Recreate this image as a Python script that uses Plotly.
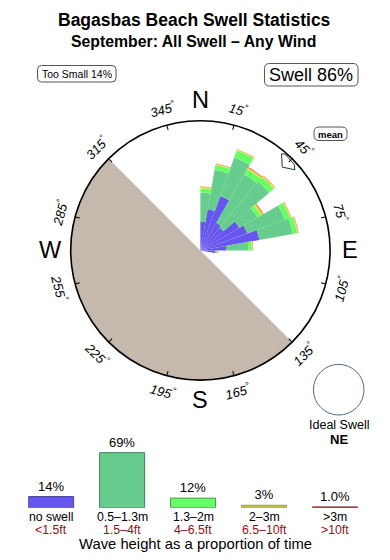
import math
import numpy as np
import plotly.graph_objects as go

W, H = 390, 560
FONT = "Liberation Sans, Arial, Helvetica, sans-serif"

# ---------------- data ----------------
title = "Bagasbas Beach Swell Statistics"
subtitle = "September: All Swell – Any Wind"
too_small_pct = 14
swell_pct = 86
ideal_dir = "NE"
mean_dir = 44.5

# rose: 10-degree sectors (start bearing), cumulative outer radius of each band (rim = 130)
sector_start = [0, 10, 20, 30, 40, 50, 60, 70, 80, 90]
cum_noswell = [29, 42, 58, 32, 30, 45, 50, 60, 26, 15]
cum_small = [58, 82, 99, 88, 90, 66, 90, 94, 48, 16.5]
cum_mid = [62, 87, 106.5, 94, 96, 70, 95.5, 98.5, 51.5, 17]
cum_big = [63.5, 88, 107.5, 95.5, 97.5, 72, 96.5, 99.5, 52.5, 18]
cum_huge = [64, 88.5, 108, 96.5, 98, 73, 97, 100, 53, 18.3]
rim = 130

land_from, land_to = 135, 315

tick_angles = [15, 45, 75, 105, 135, 165, 195, 225, 255, 285, 315, 345]
compass = ["N", "E", "S", "W"]
compass_angles = [0, 90, 180, 270]

band_labels = ["no swell", "0.5–1.3m", "1.3–2m", "2–3m", ">3m"]
band_feet = ["&lt;1.5ft", "1.5–4ft", "4–6.5ft", "6.5–10ft", "&gt;10ft"]
band_pct = [14, 69, 12, 3, 1.0]
band_pct_text = ["14%", "69%", "12%", "3%", "1.0%"]

band_colors = ["#6655ee", "#66cd8e", "#66ff66", "#e2e23a", "#ff6a3d"]
legend_fill = ["#6655ee", "#66cd8e", "#66ff66", "#c8c83a", "#a04040"]
band_line_colors = ["#4a4aa0", "#3f7d57", "#3f9a3f", "#9a9a2a", "#8b2a2a"]

# ---------------- layout geometry (px) ----------------
cx, cy, R = 200.4, 250.4, 129.7


def paper(x, y):
    return x / W, 1 - y / H


fig = go.Figure()

# land sector
fig.add_trace(go.Barpolar(
    theta=[(land_from + land_to) / 2], r=[rim], width=[land_to - land_from],
    marker=dict(color="#c4b9ac", line=dict(width=0)), hoverinfo="skip", showlegend=False))

# rose stacked bands
cums = [cum_noswell, cum_small, cum_mid, cum_big, cum_huge]
prev = np.zeros(len(sector_start))
theta_c = [s + 5 for s in sector_start]
for i, c in enumerate(cums):
    c = np.array(c, dtype=float)
    fig.add_trace(go.Barpolar(
        theta=theta_c, r=c - prev, width=[10] * len(theta_c),
        marker=dict(color=band_colors[i], line=dict(width=0)),
        hoverinfo="skip", showlegend=False))
    prev = c

# mean direction pointer
arrow_dth = [0, -4.5, -3.0, 3.0, 5.0, 0]
arrow_r = [117, 126.5, 128.5, 127.5, 124.5, 117]
fig.add_trace(go.Scatterpolar(
    theta=[mean_dir + d for d in arrow_dth], r=arrow_r, mode="lines",
    fill="toself", fillcolor="white", line=dict(color="#1f3550", width=1),
    cliponaxis=False, hoverinfo="skip", showlegend=False))

px0, py0 = paper(cx - R, cy + R)
px1, py1 = paper(cx + R, cy - R)
fig.update_layout(
    polar=dict(
        domain=dict(x=[px0, px1], y=[py0, py1]),
        bgcolor="white",
        barmode="stack",
        radialaxis=dict(visible=False, range=[0, rim]),
        angularaxis=dict(rotation=90, direction="clockwise", showgrid=False,
                         showline=True, linecolor="black", linewidth=1.6,
                         tickmode="array", tickvals=tick_angles, ticks="inside",
                         ticklen=4, tickwidth=1, tickcolor="black",
                         showticklabels=False),
    )
)

# ---------------- bottom bar legend ----------------
fig.add_trace(go.Bar(
    x=list(range(len(band_labels))), y=band_pct, width=0.634,
    marker=dict(color=legend_fill, line=dict(color=band_line_colors, width=1)),
    text=band_pct_text, textposition="outside", cliponaxis=False,
    textfont=dict(size=13, color="black", family=FONT),
    xaxis="x", yaxis="y", hoverinfo="skip", showlegend=False))

fig.update_layout(
    xaxis=dict(domain=[15.7 / W, 370.5 / W], range=[-0.5, 4.5], visible=False, fixedrange=True),
    yaxis=dict(domain=[52.3 / H, 112.1 / H], range=[0, 75], visible=False, fixedrange=True),
)

ann = []


def add_text(x, y, text, size, color="black", bold=False, italic=False, angle=0,
             xref="paper", yref="paper"):
    ann.append(dict(x=x, y=y, xref=xref, yref=yref, text=text, showarrow=False,
                    xanchor="center", yanchor="middle", textangle=angle,
                    font=dict(family=FONT, size=size, color=color,
                              weight="bold" if bold else "normal",
                              style="italic" if italic else "normal")))


# titles
add_text(*paper(194.5, 20.5), title, 17.5, bold=True)
add_text(*paper(193, 41.5), subtitle, 15.8, bold=True)

# degree tick labels
for a in tick_angles:
    t = math.radians(a)
    x = cx + 146 * math.sin(t)
    y = cy - 146 * math.cos(t)
    if a <= 90:
        ang = a
    elif a >= 270:
        ang = a - 360
    else:
        ang = a - 180
    add_text(*paper(x, y), f"{a}<sup>°</sup>", 13, italic=True, angle=ang)

# compass letters
for lab, a in zip(compass, compass_angles):
    t = math.radians(a)
    add_text(*paper(cx + 150 * math.sin(t), cy - 150 * math.cos(t)), lab, 23.5)


# boxes
def rounded(x0, y0, x1, y1, r, color, width):
    rx, ry = r / W, r / H
    X0, Y0 = paper(x0, y1)
    X1, Y1 = paper(x1, y0)
    path = (f"M {X0+rx},{Y0} L {X1-rx},{Y0} Q {X1},{Y0} {X1},{Y0+ry} "
            f"L {X1},{Y1-ry} Q {X1},{Y1} {X1-rx},{Y1} L {X0+rx},{Y1} "
            f"Q {X0},{Y1} {X0},{Y1-ry} L {X0},{Y0+ry} Q {X0},{Y0} {X0+rx},{Y0} Z")
    return dict(type="path", path=path, xref="paper", yref="paper",
                line=dict(color=color, width=width), fillcolor="white", layer="below")


shapes = [
    rounded(37.5, 65.5, 116, 82, 4, "#555555", 1),
    rounded(264.5, 63.5, 358, 86, 5, "#555555", 1),
    rounded(314, 127, 347, 140.5, 5, "#555555", 1),
]
add_text(*paper(77, 74), f"Too Small {too_small_pct}%", 10.5)
add_text(*paper(311.3, 75), f"Swell {swell_pct}%", 18)
add_text(*paper(330.5, 134), "mean", 9.5, bold=True)

# ideal swell circle
ix, iy, ir = 338.7, 389.7, 25.3
a0, b0 = paper(ix - ir, iy + ir)
a1, b1 = paper(ix + ir, iy - ir)
shapes.append(dict(type="circle", xref="paper", yref="paper", x0=a0, y0=b0, x1=a1, y1=b1,
                   line=dict(color="#4e6d8c", width=1)))
add_text(*paper(338.5, 425), "Ideal Swell", 12.5)
add_text(*paper(338.5, 439), ideal_dir, 13, bold=True)

# band labels under bars
for i, (lab, ft) in enumerate(zip(band_labels, band_feet)):
    add_text(i, 1 - 517 / H, lab, 12.3, xref="x")
    add_text(i, 1 - 529.5 / H, ft, 12.3, color="#8b1414", xref="x")
add_text(*paper(195, 544), "Wave height as a proportion of time", 14.8)

fig.update_layout(
    width=W, height=H, margin=dict(l=0, r=0, t=0, b=0, pad=0),
    paper_bgcolor="white", plot_bgcolor="white",
    annotations=ann, shapes=shapes, showlegend=False,
    font=dict(family=FONT),
)

fig.write_html("out.html")
